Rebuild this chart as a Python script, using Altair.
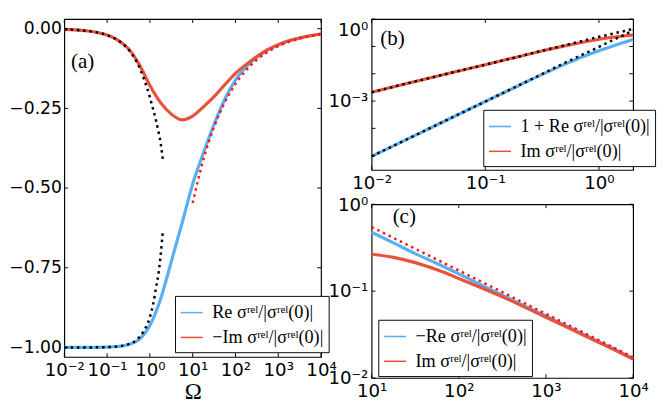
import altair as alt
import pandas as pd

# ---------------- data ----------------
# common Omega grid (quarter decades) for the full curves
OMEGA = [0.01, 0.0178, 0.0316, 0.0562, 0.1, 0.178, 0.316, 0.562, 1, 1.78, 3.16, 5.62,
         10, 17.8, 31.6, 56.2, 100, 178, 316, 562, 1000, 1780, 3160, 5620, 10000]
# panel (a)
RE_A = [-1.000, -1.000, -0.9999, -0.9997, -0.999, -0.997, -0.991, -0.975, -0.931,
        -0.848, -0.731, -0.611, -0.487, -0.390, -0.300, -0.222, -0.161, -0.120,
        -0.090, -0.067, -0.051, -0.038, -0.029, -0.022, -0.017]
IM_A = [-0.002, -0.0036, -0.0064, -0.0113, -0.020, -0.036, -0.063, -0.112, -0.178,
        -0.232, -0.268, -0.286, -0.274, -0.245, -0.213, -0.176, -0.140, -0.112,
        -0.087, -0.066, -0.050, -0.038, -0.029, -0.022, -0.0165]

# small-Omega expansions (black dotted)
OMEGA_SMALL = [0.01, 0.02, 0.05, 0.1, 0.2, 0.3, 0.5, 0.7, 1, 1.2, 1.4, 1.6, 1.8, 2]
IM_SMALL_A = [-0.002, -0.004, -0.010, -0.020, -0.041, -0.062, -0.106, -0.152, -0.215,
              -0.255, -0.290, -0.325, -0.362, -0.410]
RE_SMALL_A = [-1.000, -1.000, -0.9998, -0.999, -0.996, -0.991, -0.975, -0.951, -0.905,
              -0.862, -0.810, -0.765, -0.705, -0.636]

# large-Omega asymptote (red dotted)
OMEGA_LARGE = [10, 17.8, 31.6, 56.2, 100, 178, 316, 562, 1000, 1780, 3160, 5620, 10000]
ASYM_A = [-0.547, -0.410, -0.308, -0.231, -0.173, -0.130, -0.0973, -0.0730, -0.0547,
          -0.0410, -0.0308, -0.0231, -0.0173]

# panel (b): small Omega, log-log
OMEGA_B = [0.01, 0.02, 0.05, 0.1, 0.2, 0.3, 0.5, 0.7, 1, 1.5, 2]
REP1_B = [9.5e-6, 3.8e-5, 2.4e-4, 9.6e-4, 3.8e-3, 8.5e-3, 0.022, 0.040, 0.070, 0.122, 0.180]
IM_B = [0.0021, 0.0043, 0.0108, 0.0215, 0.043, 0.065, 0.105, 0.140, 0.183, 0.232, 0.262]
IM_SMALL_B = [0.0021, 0.0043, 0.0108, 0.0215, 0.043, 0.066, 0.110, 0.155, 0.225,
              0.265, 0.310, 0.350, 0.395, 0.450]
REP1_SMALL_B = [9.5e-6, 3.8e-5, 2.4e-4, 9.6e-4, 3.9e-3, 8.8e-3, 0.025, 0.048, 0.096,
                0.140, 0.190, 0.245, 0.310, 0.380]

# panel (c): large Omega, log-log (on OMEGA_LARGE)
NEGRE_C = [0.477, 0.360, 0.270, 0.208, 0.158, 0.119, 0.090, 0.068, 0.052, 0.039,
           0.0295, 0.0223, 0.0168]
IM_C = [0.266, 0.245, 0.213, 0.176, 0.140, 0.110, 0.086, 0.066, 0.050, 0.038,
        0.0288, 0.0219, 0.0165]
ASYM_C = [0.547, 0.410, 0.308, 0.231, 0.173, 0.130, 0.0973, 0.0730, 0.0547, 0.0410,
          0.0308, 0.0231, 0.0173]

LEG_A = ["Re σʳᵉˡ/|σʳᵉˡ(0)|", "−Im σʳᵉˡ/|σʳᵉˡ(0)|"]
LEG_B = ["1 + Re σʳᵉˡ/|σʳᵉˡ(0)|", "Im σʳᵉˡ/|σʳᵉˡ(0)|"]
LEG_C = ["−Re σʳᵉˡ/|σʳᵉˡ(0)|", "Im σʳᵉˡ/|σʳᵉˡ(0)|"]

XT_A = [0.01, 0.1, 1, 10, 100, 1000, 10000]
YT_A = [0.0, -0.25, -0.5, -0.75, -1.0]
XT_B = [0.01, 0.1, 1]
YT_B_LAB = [1, 0.001]
YT_B = [1, 0.1, 0.01, 0.001, 1e-4, 1e-5]
XT_C = [10, 100, 1000, 10000]
YT_C = [1, 0.1, 0.01]

# ---------------- styles ----------------
BLUE = "#58AFF4"
RED = "#E8523B"
RED_DOT = "#FF1414"
BLACK = "#000000"
LW = 3.3
DW = 2.6
DASH = [2.6, 4.0]
TICK = 4
FS = 19      # log-axis tick labels
FSY = 18     # linear y tick labels of (a)
FSL = 19     # legend labels

expr = "toString(round(log(datum.value)/LN10))"
for a, b in [("-", "⁻"), ("0", "⁰"), ("1", "¹"), ("2", "²"), ("3", "³"),
             ("4", "⁴"), ("5", "⁵")]:
    expr = f"replace({expr},'{a}','{b}')"
SUP = "'10' + " + expr


def frame(df_lines, dotted, xscale, yscale, xaxis, yaxis, legend, dom, W, H,
          xt, yt, label, lab_xy):
    xenc = alt.X("x:Q", scale=xscale, axis=xaxis)
    yenc = alt.Y("y:Q", scale=yscale, axis=yaxis)
    layers = []
    solid = alt.Chart(df_lines).mark_line(strokeWidth=LW, interpolate="monotone").encode(
        x=xenc, y=yenc, detail="s:N",
        color=alt.Color("s:N", scale=alt.Scale(domain=dom, range=[BLUE, RED]),
                        legend=legend),
        order=alt.Order("o:Q"),
    )
    layers.append(solid)
    for df, col in dotted:
        layers.append(
            alt.Chart(df).mark_line(strokeWidth=DW, strokeDash=DASH, color=col,
                                    interpolate="monotone", strokeCap="butt").encode(
                x=xenc, y=yenc))
    dfx = pd.DataFrame({"x": xt})
    dfy = pd.DataFrame({"y": yt})
    layers.append(alt.Chart(dfx).mark_rule(color="black", strokeWidth=1).encode(
        x=xenc, y=alt.value(0), y2=alt.value(TICK)))
    layers.append(alt.Chart(dfx).mark_rule(color="black", strokeWidth=1).encode(
        x=xenc, y=alt.value(H), y2=alt.value(H - TICK)))
    layers.append(alt.Chart(dfy).mark_rule(color="black", strokeWidth=1).encode(
        y=yenc, x=alt.value(0), x2=alt.value(TICK)))
    layers.append(alt.Chart(dfy).mark_rule(color="black", strokeWidth=1).encode(
        y=yenc, x=alt.value(W), x2=alt.value(W - TICK)))
    layers.append(alt.Chart(pd.DataFrame({"t": [label]})).mark_text(
        font="Liberation Serif", fontSize=22, align="left", baseline="middle",
        color="black").encode(x=alt.value(lab_xy[0]), y=alt.value(lab_xy[1]), text="t:N"))
    return alt.layer(*layers).properties(width=W, height=H)


def long(omega, series_list):
    rows = []
    for name, vals in series_list:
        for i, (o, v) in enumerate(zip(omega, vals)):
            rows.append({"x": o, "y": v, "s": name, "o": i})
    return pd.DataFrame(rows)


def legend(x, y):
    return alt.Legend(title=None, orient="none", legendX=x, legendY=y,
                      strokeColor="black", fillColor="white", padding=5,
                      symbolType="stroke", symbolStrokeWidth=1.6, symbolSize=529,
                      labelFont="Liberation Serif", labelFontSize=FSL,
                      labelColor="black", rowPadding=3, labelOffset=9,
                      labelLimit=400, cornerRadius=0)


def xaxis(vals, title=None):
    kw = dict(values=vals, labelExpr=SUP, labelFont="DejaVu Sans", labelFontSize=FS,
              labelPadding=4, labelFlush=False, labelOverlap=False,
              labelColor="black", grid=False, ticks=False, domain=False)
    if title is not None:
        kw.update(title=title, titleFont="Liberation Serif", titleFontSize=24,
                  titleFontWeight="normal", titlePadding=1, titleColor="black")
    else:
        kw.update(title=None)
    return alt.Axis(**kw)


def ylog_axis(vals, flush=False):
    kw = dict(values=vals, labelExpr=SUP, labelFont="DejaVu Sans",
              labelFontSize=FS, labelPadding=4, labelOverlap=False, title=None,
              labelColor="black", grid=False, ticks=False, domain=False)
    if flush:
        kw.update(labelFlush=True, labelFlushOffset=-2)
    else:
        kw.update(labelFlush=False)
    return alt.Axis(**kw)


WA, HA = 269, 354
WB, HB = 274, 158
WC, HC = 274, 182

# panel (a)
df_a = long(OMEGA, [(LEG_A[0], RE_A), (LEG_A[1], IM_A)])
pa = frame(
    df_a,
    [(pd.DataFrame({"x": OMEGA_LARGE, "y": ASYM_A}), RED_DOT),
     (pd.DataFrame({"x": OMEGA_SMALL, "y": IM_SMALL_A}), BLACK),
     (pd.DataFrame({"x": OMEGA_SMALL, "y": RE_SMALL_A}), BLACK)],
    alt.Scale(type="log", domain=[0.01, 10000], nice=False),
    alt.Scale(domain=[-1.03, 0.03], nice=False, zero=False),
    xaxis(XT_A, "Ω"),
    alt.Axis(values=YT_A, format=".2f", labelFont="DejaVu Sans", labelFontSize=FSY,
             labelPadding=3, title=None, labelFlush=False, labelOverlap=False,
             labelColor="black", grid=False, ticks=False, domain=False),
    legend(WA - 3 - 150, HA - 7 - 57), LEG_A, WA, HA, XT_A, YT_A, "(a)", (7, 44),
)

# panel (b)
df_b = long(OMEGA_B, [(LEG_B[0], REP1_B), (LEG_B[1], IM_B)])
pb = frame(
    df_b,
    [(pd.DataFrame({"x": OMEGA_SMALL, "y": IM_SMALL_B}), BLACK),
     (pd.DataFrame({"x": OMEGA_SMALL, "y": REP1_SMALL_B}), BLACK)],
    alt.Scale(type="log", domain=[0.01, 2], nice=False),
    alt.Scale(type="log", domain=[3e-6, 1], nice=False),
    xaxis(XT_B), ylog_axis(YT_B_LAB, flush=True),
    legend(WB - 6 - 151, HB - 8 - 55), LEG_B, WB, HB, XT_B, YT_B, "(b)", (9, 20),
)

# panel (c)
df_c = long(OMEGA_LARGE, [(LEG_C[0], NEGRE_C), (LEG_C[1], IM_C)])
pc = frame(
    df_c,
    [(pd.DataFrame({"x": OMEGA_LARGE, "y": ASYM_C}), RED_DOT)],
    alt.Scale(type="log", domain=[10, 10000], nice=False),
    alt.Scale(type="log", domain=[0.01, 1], nice=False),
    xaxis(XT_C), ylog_axis(YT_C),
    legend(7, HC - 4 - 57), LEG_C, WC, HC, XT_C, YT_C, "(c)", (22, 13),
)

right = alt.vconcat(pb, pc, spacing=36, bounds="flush").resolve_scale(
    x="independent", y="independent", color="independent")
chart = (
    alt.hconcat(pa, right, spacing=53, bounds="flush")
    .resolve_scale(x="independent", y="independent", color="independent")
    .properties(padding=0, background="white")
    .configure_view(stroke="black", strokeWidth=1.2)
    .configure_axis(domain=False, ticks=False, grid=False, labelFontSize=FS,
                    labelFont="DejaVu Sans", labelColor="black")
)

chart.save("out.html", embed_options={"renderer": "svg", "actions": False})
